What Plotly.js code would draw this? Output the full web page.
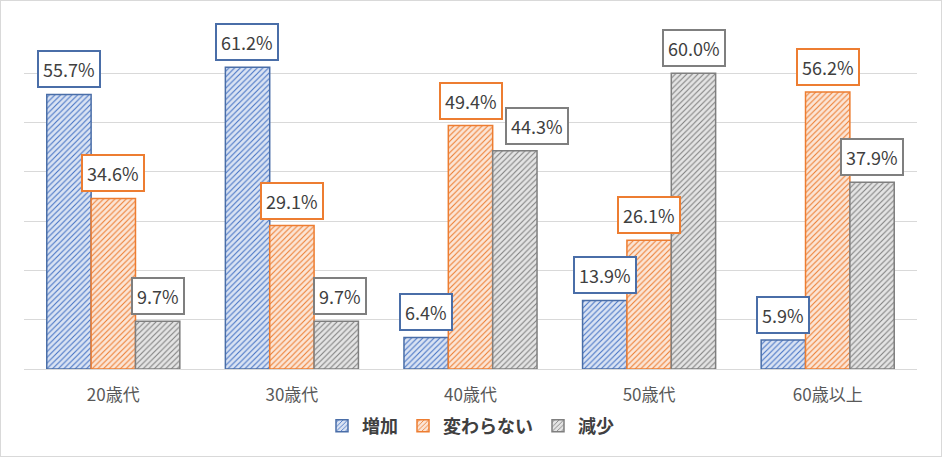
<!DOCTYPE html>
<html><head><meta charset="utf-8">
<script src="https://cdn.plot.ly/plotly-3.0.1.min.js"></script>
<style>body{margin:0;background:#fff}#c{width:942px;height:457px}#f{position:absolute;left:0;top:0;width:942px;height:457px;box-sizing:border-box;border:1px solid #d9d9d9;pointer-events:none}</style>
</head><body><div id="c"></div><div id="f"></div>
<script>
const categories = ["20歳代","30歳代","40歳代","50歳代","60歳以上"];
const seriesNames = ["増加","変わらない","減少"];
const increase = [55.7, 61.2, 6.4, 13.9, 5.9];
const unchanged = [34.6, 29.1, 49.4, 26.1, 56.2];
const decrease = [9.7, 9.7, 44.3, 60.0, 37.9];

const values = [increase, unchanged, decrease];
const lineColors = ["#4a6ea8", "#ed7d31", "#7f7f7f"];
const fgColors = ["#4472c4", "#ed7d31", "#7f7f7f"];
const bgColors = ["#dae3f3", "#fbe5d6", "#e4e4e4"];
const font = "'Noto Sans CJK JP', 'Noto Sans', sans-serif";

const traces = values.map((v, i) => ({
  type: "bar", name: seriesNames[i], x: categories, y: v,
  marker: {
    color: bgColors[i],
    line: {color: lineColors[i], width: 1.5},
    pattern: {shape: "/", fgcolor: fgColors[i], bgcolor: bgColors[i], size: 4, solidity: 0.27, fillmode: "replace"}
  },
  hoverinfo: "none"
}));

const shifts = [-44.5, 0, 44.5];
// label nudges (series index, category index) -> extra x pixels, to avoid box overlap like the original
const nudge = {"2-2": 22, "2-1": 4};
const annotations = [];
values.forEach((v, i) => {
  v.forEach((val, j) => {
    annotations.push({
      x: categories[j], y: val, xref: "x", yref: "y",
      text: val.toFixed(1) + "%", showarrow: false,
      xshift: shifts[i] + (nudge[i + "-" + j] || 0), yanchor: "bottom", yshift: 6,
      font: {family: font, size: 18, color: "#404040"},
      bgcolor: "#ffffff", bordercolor: lineColors[i], borderwidth: 2, borderpad: 4
    });
  });
});

const layout = {
  width: 942, height: 457,
  margin: {l: 24, r: 25, t: 24, b: 88},
  paper_bgcolor: "#ffffff", plot_bgcolor: "#ffffff",
  barmode: "group", bargap: 0.255, bargroupgap: 0,
  font: {family: font, color: "#595959"},
  xaxis: {type: "category", tickfont: {family: font, size: 17, color: "#595959"}, ticks: "", showline: false, ticklabelstandoff: 14},
  yaxis: {range: [0, 70], dtick: 10, showticklabels: false, gridcolor: "#d9d9d9", gridwidth: 1, zeroline: true, zerolinecolor: "#d9d9d9", zerolinewidth: 1, fixedrange: true},
  showlegend: true,
  legend: {orientation: "h", x: 0.5, xanchor: "center", y: -0.165, yanchor: "middle", font: {family: font, size: 18, color: "#404040", weight: "bold"}, itemwidth: 30, tracegroupgap: 0},
  annotations: annotations
};
Plotly.newPlot("c", traces, layout, {displayModeBar: false, staticPlot: true});
</script></body></html>
